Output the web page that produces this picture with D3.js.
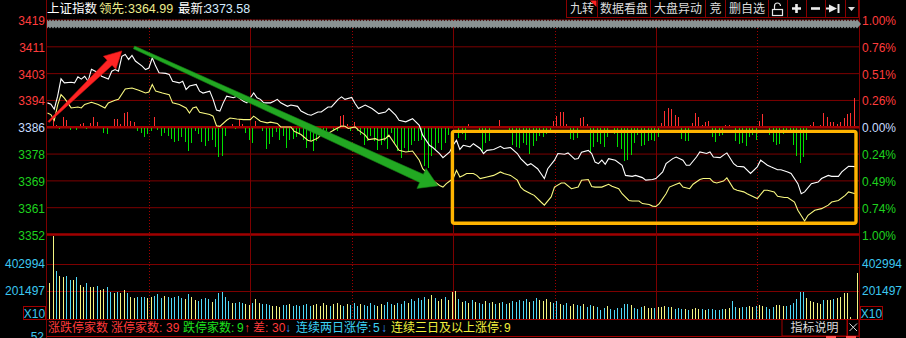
<!DOCTYPE html>
<html>
<head>
<meta charset="utf-8">
<script src="https://cdn.jsdelivr.net/npm/d3@7"></script>
<style>
  html, body { margin: 0; padding: 0; background: #000; }
  svg { display: block; font-family: "Liberation Sans", Arial, "Noto Sans CJK SC", sans-serif; }
</style>
</head>
<body>
<svg id="chart" width="906" height="338"></svg>
<script>
// ---- data ----
const prevClose = 3386.0;

// [minute, price] of the index (white) and the leading line (yellow)
const indexLine = [
  [0,3393.7],[1,3393.3],[2,3391.7],[3,3395.8],[4,3401.3],[5,3400.0],[7,3400.2],[8,3400.0],[9,3401.9],[10,3401.2],
  [11,3402.1],[12,3400.5],[13,3404.3],[15,3403.2],[16,3402.1],[18,3401.2],[19,3403.7],[20,3404.2],[21,3403.7],[22,3408.4],
  [23,3409.0],[24,3407.4],[25,3408.7],[26,3406.9],[28,3405.3],[29,3404.2],[30,3404.7],[31,3407.9],[32,3405.3],[33,3403.2],
  [35,3403.0],[36,3402.7],[37,3400.5],[39,3400.0],[40,3400.5],[41,3397.9],[42,3399.0],[44,3399.5],[45,3397.4],[46,3396.8],
  [48,3397.4],[49,3394.8],[50,3391.4],[51,3391.1],[52,3393.7],[53,3395.8],[55,3395.3],[56,3395.8],[58,3394.2],[59,3393.7],
  [61,3396.8],[62,3395.3],[63,3394.8],[64,3393.7],[66,3393.7],[67,3394.2],[68,3394.8],[69,3393.7],[71,3392.6],[72,3393.0],
  [74,3392.6],[75,3391.1],[77,3390.0],[78,3389.8],[80,3390.8],[81,3390.8],[83,3392.4],[84,3392.4],[86,3394.8],[87,3395.6],
  [88,3394.8],[90,3395.4],[91,3393.5],[92,3391.9],[94,3393.0],[96,3391.9],[98,3390.3],[100,3390.8],[101,3391.9],[103,3389.8],
  [104,3388.2],[106,3387.7],[108,3388.7],[110,3386.6],[111,3383.5],[113,3380.3],[114,3379.6],[116,3377.7],[117,3376.4],[119,3378.2],
  [120,3380.3],[121,3381.9],[122,3379.0],[123,3380.3],[125,3379.8],[126,3380.8],[128,3379.3],[129,3377.7],[130,3378.7],[132,3379.0],
  [134,3380.0],[135,3379.3],[137,3379.6],[139,3377.7],[140,3376.1],[142,3374.0],[143,3374.5],[145,3372.9],[147,3369.8],[148,3372.9],
  [150,3375.6],[151,3377.7],[153,3377.5],[154,3377.9],[156,3375.9],[157,3376.1],[158,3378.1],[160,3378.7],[161,3377.7],[162,3375.0],
  [163,3374.5],[164,3375.6],[165,3374.3],[166,3376.1],[168,3375.6],[170,3374.0],[171,3370.8],[173,3370.5],[174,3370.8],[176,3370.1],
  [177,3369.3],[179,3369.5],[180,3369.8],[182,3371.9],[183,3374.5],[185,3376.1],[186,3376.6],[188,3375.6],[189,3374.0],[190,3374.0],
  [192,3376.6],[193,3378.2],[195,3377.7],[196,3378.2],[197,3376.6],[199,3376.4],[200,3377.2],[201,3377.9],[203,3374.5],[204,3373.7],
  [206,3373.5],[208,3371.4],[210,3373.5],[211,3375.6],[213,3374.0],[214,3373.5],[216,3372.6],[217,3372.6],[219,3371.9],[220,3371.4],
  [222,3368.2],[223,3365.0],[224,3365.6],[226,3368.2],[228,3368.7],[229,3369.8],[231,3370.8],[232,3370.5],[234,3370.5],[235,3371.9],
  [237,3373.7],[239,3373.58]
];

const leadLine = [
  [0,3390.5],[1,3390.0],[2,3388.2],[3,3393.0],[4,3396.3],[5,3395.2],[6,3393.7],[7,3392.1],[9,3392.4],[10,3392.1],
  [11,3393.2],[13,3393.9],[15,3393.2],[17,3392.1],[18,3393.7],[20,3394.5],[21,3394.8],[23,3398.1],[25,3398.4],[27,3397.7],
  [29,3396.8],[30,3397.1],[31,3399.5],[32,3397.4],[34,3396.8],[36,3396.3],[37,3393.7],[39,3393.2],[41,3392.1],[42,3390.5],
  [43,3392.1],[44,3392.4],[45,3390.7],[48,3390.0],[49,3389.5],[50,3386.5],[51,3386.3],[53,3388.2],[54,3388.9],[56,3388.6],
  [58,3388.4],[60,3388.4],[61,3389.5],[63,3387.9],[65,3387.4],[66,3387.6],[68,3387.2],[69,3386.1],[72,3386.1],[73,3384.7],
  [75,3383.7],[77,3381.9],[78,3381.6],[80,3382.6],[81,3383.7],[83,3384.0],[85,3385.3],[87,3386.4],[88,3386.3],[89,3385.6],
  [91,3386.1],[92,3385.1],[94,3383.5],[95,3382.1],[97,3382.4],[98,3381.9],[100,3382.4],[101,3383.5],[103,3380.3],[104,3378.7],
  [106,3378.2],[108,3378.5],[110,3375.6],[111,3372.9],[113,3370.8],[114,3369.2],[116,3367.6],[117,3367.1],[118,3368.2],[120,3369.8],
  [121,3372.4],[122,3370.3],[123,3370.8],[124,3371.4],[126,3371.4],[127,3370.8],[128,3369.8],[130,3370.3],[132,3370.8],[134,3371.9],
  [135,3371.4],[137,3370.8],[139,3369.3],[140,3367.1],[141,3366.1],[143,3365.0],[144,3364.5],[146,3362.4],[147,3361.4],[149,3364.0],
  [150,3367.1],[152,3368.4],[153,3368.4],[155,3366.6],[157,3367.1],[158,3369.3],[160,3369.5],[161,3367.3],[162,3367.1],[164,3367.1],
  [166,3368.0],[167,3367.4],[169,3366.6],[170,3365.0],[172,3362.9],[173,3362.7],[175,3362.7],[176,3361.9],[178,3361.6],[179,3361.1],
  [180,3361.0],[181,3361.9],[183,3365.0],[184,3367.1],[186,3368.0],[187,3368.4],[188,3367.1],[190,3366.6],[191,3368.0],[193,3369.5],
  [194,3369.8],[196,3369.8],[197,3368.7],[198,3368.4],[200,3369.0],[201,3370.0],[203,3366.6],[204,3366.1],[206,3365.6],[207,3365.0],
  [209,3364.0],[210,3363.5],[212,3366.1],[213,3366.1],[215,3365.6],[216,3364.2],[218,3363.8],[219,3363.8],[221,3362.4],[222,3359.8],
  [224,3356.4],[225,3358.2],[227,3359.8],[229,3360.3],[231,3361.4],[232,3362.4],[234,3362.9],[236,3364.5],[237,3365.6],[239,3364.99]
];

// [minute, up/down strength] red above zero, green below
const strength = [
  [1,6.5],[2,1],[3,-1],[4,9.5],[5,6],[6,-2],[8,-2],[9,2],[10,3],[11,-1],[12,3.5],[13,9.5],[14,4],[16,-4.5],[17,-6],
  [19,7],[20,7],[21,2],[22,13],[23,14.5],[24,5],[25,4],[26,-2.5],[27,-5],[28,-9],[29,-6],[30,-3],[31,9.5],[32,-2],
  [33,-8],[34,-5],[35,-8],[36,-11],[37,-14],[38,-13],[39,-9],[40,-14],[41,-23],[42,-15],[43,-3],[44,-6],[45,-14],
  [46,-18],[47,-13],[48,-12],[49,-19],[50,-29],[51,-28],[52,-8],[54,2],[55,-1],[56,7],[57,2],[58,-5],[59,-12],[60,-15],
  [61,5.5],[63,-3],[64,-21],[65,-16],[66,-9],[67,-4],[68,-12],[69,-8],[70,-20],[71,-12],[72,-11],[73,-9],[74,-6],
  [75,-12],[76,-20],[77,-13],[78,-23],[79,-13],[80,-3],[81,-2],[82,-3],[84,-3],[85,-3],[86,10],[87,11],[88,2],[89,-3],
  [90,4],[91,-3],[92,-7],[93,-17],[94,-13],[95,-8],[96,-13],[97,-22],[98,-17],[99,-13],[100,-21],[101,-5],[102,-15],
  [103,-23],[104,-30],[105,-20],[106,-23],[107,-17],[108,-13],[109,-13],[110,-12],[111,-38],[112,-40],[113,-28],
  [114,-22],[115,-15],[116,-22],[117,-15],[118,-7],[121,-10],[122,-6],[123,-12],[124,2],[127,-3],[128,-23],[129,-15],
  [130,-13],[133,6],[136,-3],[137,-17],[138,-19],[139,-20],[140,-15],[141,-17],[142,-26],[143,-18],[144,-13],[145,-8],
  [146,-9],[147,-6],[148,-3],[149,5],[150,10],[151,14],[152,14],[153,2],[154,-11],[155,-12],[156,-10],[157,8],[158,9],
  [159,2],[160,-24],[161,-19],[162,-14],[163,-16],[164,-19],[165,-9],[167,-6],[168,-19],[169,-21],[170,-33],[171,-32],
  [172,-27],[173,-15],[174,-7],[175,-18],[176,-17],[177,-13],[178,-12],[179,-13],[180,-9],[181,3.5],[182,15.5],[183,18],
  [184,17],[185,11],[186,9.5],[187,-11],[188,-13],[189,-13],[190,3],[191,13.5],[192,9.5],[193,1],[194,4.5],[195,5],
  [196,-8.5],[197,-13.5],[198,-8],[199,-7],[200,1],[201,1.5],[203,-12.5],[204,-16],[205,-14.5],[206,-17.5],[207,-9],
  [208,-7],[209,-11.5],[210,5],[211,12],[212,0.5],[213,-7],[214,-14],[215,-16.5],[216,-15.5],[217,-6],[218,-5],[219,-4],
  [220,-16.5],[221,-28],[222,-34.5],[223,-28.5],[224,-12],[225,1.5],[226,4.5],[228,1],[229,13.5],[230,9],[231,4.5],
  [232,4.5],[233,2],[234,4],[235,8],[236,12.5],[237,13.5],[238,28.5]
];

// volume per minute (axis units, shown X10)
const volume = [
  260000,604000,352000,313000,308000,313000,284000,284000,304000,248000,
  235000,264000,235000,235000,240000,211000,216000,231000,199000,192000,
  199000,192000,211000,187000,162000,151000,158000,158000,158000,151000,
  158000,168000,182000,151000,168000,162000,151000,162000,168000,151000,
  143000,182000,158000,138000,133000,143000,151000,143000,126000,146000,
  187000,194000,162000,133000,119000,114000,126000,114000,109000,102000,
  119000,143000,119000,109000,109000,102000,95000,95000,90000,102000,
  102000,109000,95000,102000,95000,102000,109000,95000,102000,109000,
  95000,117000,102000,95000,109000,117000,102000,95000,109000,102000,
  117000,95000,109000,102000,95000,117000,102000,95000,109000,102000,
  124000,109000,102000,117000,109000,131000,117000,146000,131000,153000,
  138000,160000,146000,175000,153000,131000,146000,160000,138000,197000,
  204000,146000,124000,131000,117000,138000,124000,117000,109000,131000,
  117000,124000,109000,117000,124000,109000,117000,131000,124000,138000,
  131000,146000,124000,131000,153000,138000,131000,146000,124000,117000,
  131000,109000,102000,117000,95000,109000,102000,95000,109000,87000,
  102000,95000,87000,66000,78000,95000,71000,66000,78000,78000,
  109000,109000,102000,78000,71000,90000,95000,78000,78000,78000,
  85000,90000,95000,85000,90000,71000,78000,71000,71000,66000,
  71000,78000,71000,75000,66000,71000,71000,66000,66000,71000,
  71000,78000,133000,90000,78000,90000,90000,95000,90000,95000,
  102000,95000,85000,71000,85000,102000,102000,95000,95000,102000,
  119000,143000,199000,199000,151000,133000,126000,119000,109000,138000,
  138000,138000,143000,151000,158000,192000,192000,12000,0,333000
];
// y = up minute (yellow bar), c = down minute (cyan bar)
const volumeDir = [
  "yycyyccycy","ycyycyyccy","cyycyycccy","ycccyccccc","ycyyccccyc","ccccycccyy",
  "cyycccyyyc","cyccccccyy","yyycyyycyc","ccyccccyyc","ccycccyccc","ccyycyycyy",
  "ycycycyccy","cycyccyccc","ccyccyyyyc","cyccyyccyc","cycccycccc","ccycccyyyc",
  "yyycycccyc","yyycyccccc","yyccyccyyc","yycccyyycc","ccccyyyyyc","yycyyyyyyy"
].join("");

const pctLevels = [1, 0.75, 0.5, 0.25, 0, -0.25, -0.5, -0.75, -1];
const priceLabels = ["3419", "3411", "3403", "3394", "3386", "3378", "3369", "3361", "3352"];
const pctLabels = ["1.00%", "0.76%", "0.51%", "0.26%", "0.00%", "0.24%", "0.49%", "0.74%", "1.00%"];
const volTicks = [402994, 201497];
const volMax = 604491;
const timeTicks = [30, 60, 90, 120, 150, 180, 210];

// annotations, in [minute, price]
const upArrow = [[0.3, 3387.7], [22.0, 3410.1]];
const downArrow = [[25.6, 3411.2], [115.5, 3367.5]];
const focusBox = [[119.8, 3384.7], [239.2, 3355.7]];

const header = [
  { text: "上证指数", x: 47, color: "#ffffff" },
  { text: "领先:", x: 99, color: "#ecec8c" },
  { text: "3364.99", x: 128, color: "#ecec8c" },
  { text: "最新:", x: 178, color: "#ffffff" },
  { text: "3373.58", x: 205, color: "#d4ecff" },
];
const buttons = [
  { label: "九转", x0: 566, x1: 597 },
  { label: "数据看盘", x0: 597, x1: 650 },
  { label: "大盘异动", x0: 650, x1: 705 },
  { label: "竞", x0: 705, x1: 725 },
  { label: "删自选", x0: 725, x1: 768 },
  { label: "", x0: 768, x1: 787 },
  { label: "", x0: 787, x1: 806 },
  { label: "", x0: 806, x1: 825 },
  { label: "", x0: 825, x1: 845 },
  { label: "", x0: 845, x1: 858 },
];
const footer = [
  { text: "涨跌停家数", x: 48, color: "#ff3a3a" },
  { text: "涨停家数:", x: 111, color: "#ff3a3a" },
  { text: "39", x: 166, color: "#ff3a3a" },
  { text: "跌停家数:", x: 183, color: "#1ee01e" },
  { text: "9", x: 237, color: "#1ee01e" },
  { text: "↑", x: 244, color: "#ff3a3a" },
  { text: "差:", x: 253, color: "#ff3a3a" },
  { text: "30", x: 272, color: "#ff3a3a" },
  { text: "↓", x: 285, color: "#3c9cff" },
  { text: "连续两日涨停:", x: 296, color: "#3cd2f5" },
  { text: "5", x: 373, color: "#3cd2f5" },
  { text: "↓", x: 381, color: "#3c9cff" },
  { text: "连续三日及以上涨停:", x: 391, color: "#f0f03c" },
  { text: "9", x: 504, color: "#f0f03c" },
];

// ---- scales ----
const RED = "#ff3c3c", GREEN = "#1ed21e", ZERO = "#c8dcff", CYAN = "#3cc8f0";
const GRID = "#7d0000", GRID_DARK = "#a00000";

const svg = d3.select("#chart");
const x = d3.scaleLinear().domain([0, 240]).range([47.5, 858.7]);
const y = d3.scaleLinear().domain([prevClose * 0.99, prevClose * 1.01]).range([234.5, 20]);
const yVol = d3.scaleLinear().domain([0, volMax]).range([319, 236]);
const hStr = d3.scaleLinear().domain([0, 40]).range([0, 40]);
const barX = (i) => Math.round(x(i) + 1.8) + 0.5;
const levelY = (p) => y(prevClose * (1 + p / 100));

// ---- frame and grid ----
svg.append("rect").attr("width", 906).attr("height", 338).attr("fill", "#000");

const grid = svg.append("g");
grid.selectAll("line.h")
  .data(pctLevels)
  .join("line")
  .attr("x1", 47).attr("x2", 859)
  .attr("y1", (d) => levelY(d)).attr("y2", (d) => levelY(d))
  .attr("stroke", (d) => (d === 0 || d === -1 ? GRID_DARK : GRID))
  .attr("stroke-width", (d) => (d === 0 || d === -1 ? 2.6 : 1));

grid.selectAll("line.v")
  .data(volTicks)
  .join("line")
  .attr("x1", 47).attr("x2", 859)
  .attr("y1", (d) => Math.round(yVol(d)) + 0.5).attr("y2", (d) => Math.round(yVol(d)) + 0.5)
  .attr("stroke", GRID);

grid.selectAll("line.t")
  .data(timeTicks)
  .join("line")
  .attr("x1", (d) => Math.round(x(d)) + 0.5).attr("x2", (d) => Math.round(x(d)) + 0.5)
  .attr("y1", 19).attr("y2", 319)
  .attr("stroke", (d) => (d % 60 === 0 ? GRID : GRID_DARK))
  .attr("stroke-dasharray", (d) => (d % 60 === 0 ? null : "1,2"));

grid.append("line").attr("x1", 46.5).attr("x2", 46.5).attr("y1", 0).attr("y2", 338).attr("stroke", GRID);
grid.append("line").attr("x1", 859.5).attr("x2", 859.5).attr("y1", 0).attr("y2", 338).attr("stroke", GRID);
grid.append("line").attr("x1", 47).attr("x2", 859).attr("y1", 319.5).attr("y2", 319.5).attr("stroke", GRID_DARK);
grid.append("line").attr("x1", 47).attr("x2", 859).attr("y1", 336.5).attr("y2", 336.5).attr("stroke", GRID_DARK);

// ---- strength bars ----
const y0 = y(prevClose);
svg.append("g")
  .attr("shape-rendering", "crispEdges")
  .selectAll("line")
  .data(strength)
  .join("line")
  .attr("x1", (d) => barX(d[0])).attr("x2", (d) => barX(d[0]))
  .attr("y1", (d) => (d[1] > 0 ? y0 - 1 : y0 + 1))
  .attr("y2", (d) => (d[1] > 0 ? y0 - 1 - hStr(d[1]) : y0 + 1 + hStr(-d[1])))
  .attr("stroke", (d) => (d[1] > 0 ? "#ff3030" : "#00e000"))
  .attr("stroke-width", 1);

// ---- volume bars ----
svg.append("g")
  .attr("shape-rendering", "crispEdges")
  .selectAll("line")
  .data(volume)
  .join("line")
  .attr("x1", (d, i) => barX(i)).attr("x2", (d, i) => barX(i))
  .attr("y1", yVol(0))
  .attr("y2", (d) => yVol(d))
  .attr("stroke", (d, i) => (volumeDir[i] === "y" ? "#f4f482" : "#50d8f8"))
  .attr("stroke-width", 1);

// ---- price lines ----
const line = d3.line().x((d) => x(d[0])).y((d) => y(d[1]));
svg.append("path").datum(leadLine).attr("d", line)
  .attr("fill", "none").attr("stroke", "#f8f880").attr("stroke-width", 1.1);
svg.append("path").datum(indexLine).attr("d", line)
  .attr("fill", "none").attr("stroke", "#ffffff").attr("stroke-width", 1.1);

// ---- range slider band at the top ----
let band = "M47,19.6";
for (let px = 47; px < 857; px += 3) band += `L${px + 1.5},21.2L${px + 3},19.6`;
band += "L857,19.6L861,24L857,28.4";
for (let px = 857; px > 47; px -= 3) band += `L${px - 1.5},26.8L${px - 3},28.4`;
band += "Z";
svg.append("path").attr("d", band).attr("fill", "#8a9292");

// ---- annotations ----
function arrow(a, b, w0, w1, hw, hl) {
  const p0 = [x(a[0]), y(a[1])], p1 = [x(b[0]), y(b[1])];
  const len = Math.hypot(p1[0] - p0[0], p1[1] - p0[1]);
  const u = [(p1[0] - p0[0]) / len, (p1[1] - p0[1]) / len];
  const n = [-u[1], u[0]];
  const base = [p1[0] - u[0] * hl, p1[1] - u[1] * hl];
  const pt = (p, k) => [p[0] + n[0] * k, p[1] + n[1] * k];
  return [pt(p0, w0 / 2), pt(base, w1 / 2), pt(base, hw), p1, pt(base, -hw), pt(base, -w1 / 2), pt(p0, -w0 / 2)];
}
svg.append("polygon")
  .attr("points", arrow(upArrow[0], upArrow[1], 1.5, 7, 9, 17).join(" "))
  .attr("fill", "#ff2424").attr("stroke", "#d01010").attr("stroke-width", 0.6);
svg.append("polygon")
  .attr("points", arrow(downArrow[0], downArrow[1], 3, 9, 11, 18).join(" "))
  .attr("fill", "#22a822").attr("stroke", "#168016").attr("stroke-width", 0.6);

svg.append("rect")
  .attr("x", x(focusBox[0][0])).attr("y", y(focusBox[0][1]))
  .attr("width", x(focusBox[1][0]) - x(focusBox[0][0]))
  .attr("height", y(focusBox[1][1]) - y(focusBox[0][1]))
  .attr("rx", 2)
  .attr("fill", "none").attr("stroke", "#ffb400").attr("stroke-width", 3.4);

// ---- axis labels ----
const labelColor = (d) => (d > 0 ? RED : d < 0 ? GREEN : ZERO);
svg.append("g").attr("font-size", 12)
  .selectAll("text")
  .data(pctLevels)
  .join("text")
  .attr("x", 45).attr("y", (d) => levelY(d) + 5)
  .attr("text-anchor", "end")
  .attr("fill", labelColor)
  .text((d, i) => priceLabels[i]);
svg.append("g").attr("font-size", 12)
  .selectAll("text")
  .data(pctLevels)
  .join("text")
  .attr("x", 862).attr("y", (d) => levelY(d) + 5)
  .attr("fill", labelColor)
  .text((d, i) => pctLabels[i]);

const volLabels = svg.append("g").attr("font-size", 12).attr("fill", CYAN);
volTicks.forEach((v) => {
  volLabels.append("text").attr("x", 45).attr("y", yVol(v) + 4).attr("text-anchor", "end").text(v);
  volLabels.append("text").attr("x", 862).attr("y", yVol(v) + 4).text(v);
});
volLabels.append("text").attr("x", 44).attr("y", 341).attr("text-anchor", "end").text("52");
[[23, "X10"], [860, "X10"]].forEach(([bx, t]) => {
  svg.append("rect").attr("x", bx + 0.5).attr("y", 306.5).attr("width", 22).attr("height", 13)
    .attr("fill", "none").attr("stroke", GRID_DARK);
  svg.append("text").attr("x", bx + 11.5).attr("y", 317.5).attr("text-anchor", "middle")
    .attr("font-size", 12).attr("fill", CYAN).text(t);
});

// ---- header ----
svg.append("g").attr("font-size", 12.5)
  .selectAll("text")
  .data(header)
  .join("text")
  .attr("x", (d) => d.x).attr("y", 13)
  .attr("fill", (d) => d.color)
  .text((d) => d.text);

const btn = svg.append("g");
btn.selectAll("rect")
  .data(buttons)
  .join("rect")
  .attr("x", (d) => d.x0 + 0.5).attr("y", -1)
  .attr("width", (d) => d.x1 - d.x0).attr("height", 18.5)
  .attr("fill", "#000").attr("stroke", "#8c0000");
btn.selectAll("text")
  .data(buttons)
  .join("text")
  .attr("x", (d) => (d.x0 + d.x1) / 2 + 0.5).attr("y", 13)
  .attr("text-anchor", "middle").attr("font-size", 12).attr("fill", "#dcdcdc")
  .text((d) => d.label);
btn.append("path").attr("d", "M590,0.5L596.5,0.5L596.5,7Z").attr("fill", "#ff2020");
// lock
btn.append("rect").attr("x", 772.5).attr("y", 9.5).attr("width", 10).attr("height", 6)
  .attr("fill", "none").attr("stroke", "#e6e6e6").attr("stroke-width", 1.2);
btn.append("path").attr("d", "M774.5,9.5V6a3,3 0 0 1 6,0").attr("fill", "none")
  .attr("stroke", "#e6e6e6").attr("stroke-width", 1.2);
// plus, minus, jump-to-end, menu
btn.append("path").attr("d", "M792,8.5H801M796.5,4V13").attr("stroke", "#ececec").attr("stroke-width", 2.6);
btn.append("path").attr("d", "M811,8.5H820").attr("stroke", "#ececec").attr("stroke-width", 2.6);
btn.append("path").attr("d", "M829,4.5L837,8.5L829,12.5Z").attr("fill", "#ececec");
btn.append("path").attr("d", "M826,7.5H831V9.5H826Z").attr("fill", "#ececec");
btn.append("path").attr("d", "M838.5,4V13").attr("stroke", "#ececec").attr("stroke-width", 2);
btn.append("path").attr("d", "M848,7L855,7L851.5,11Z").attr("fill", "#dcdcdc");

// ---- footer ----
svg.append("g").attr("font-size", 12)
  .selectAll("text")
  .data(footer)
  .join("text")
  .attr("x", (d) => d.x).attr("y", 332)
  .attr("fill", (d) => d.color)
  .text((d) => d.text);

svg.append("rect").attr("x", 782).attr("y", 319.5).attr("width", 65).attr("height", 16.5)
  .attr("fill", "#000").attr("stroke", GRID_DARK);
svg.append("text").attr("x", 814.5).attr("y", 332).attr("text-anchor", "middle")
  .attr("font-size", 12).attr("fill", "#dcdcdc").text("指标说明");
svg.append("rect").attr("x", 847.5).attr("y", 319.5).attr("width", 11.5).attr("height", 16.5)
  .attr("fill", "#000").attr("stroke", GRID_DARK);
svg.append("path").attr("d", "M849.5,323.5L857,331M857,323.5L849.5,331")
  .attr("stroke", "#dcdcdc").attr("stroke-width", 1);
svg.append("rect").attr("x", 826).attr("y", 336).attr("width", 10).attr("height", 2).attr("fill", "#ff5050");
svg.append("rect").attr("x", 846).attr("y", 336).attr("width", 10).attr("height", 2).attr("fill", "#ff5050");
</script>
</body>
</html>
